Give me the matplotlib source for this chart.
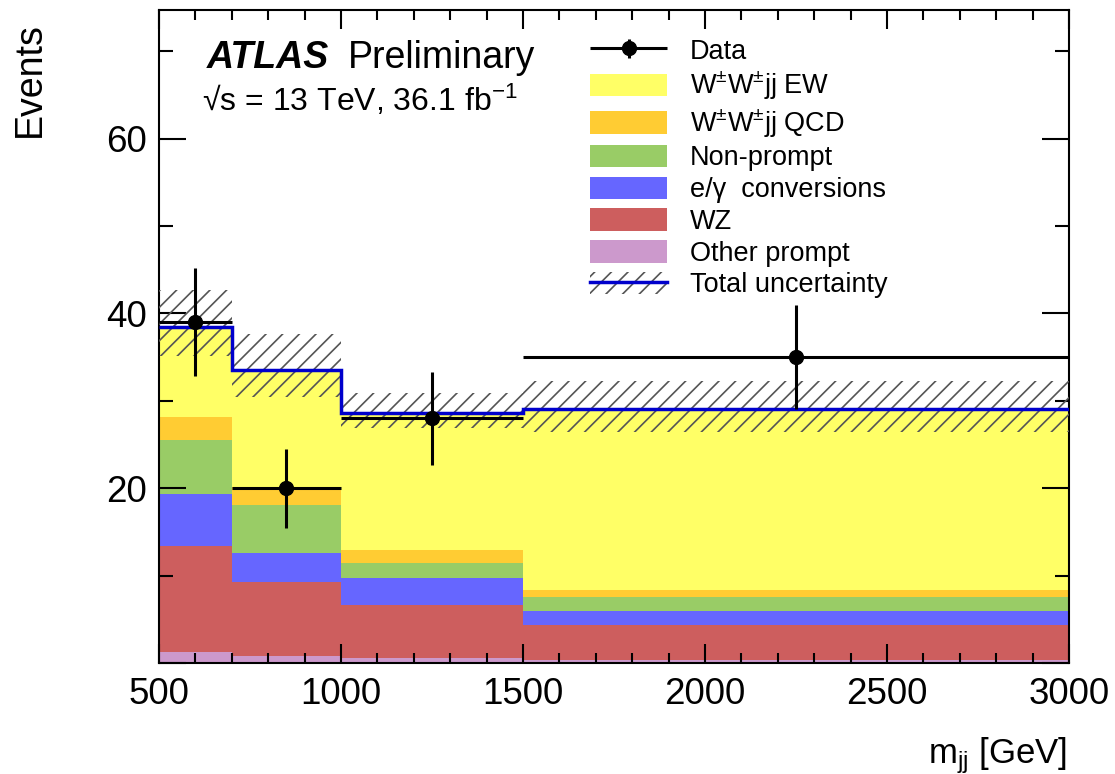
import matplotlib
matplotlib.use("Agg")
import matplotlib.pyplot as plt
import numpy as np
from matplotlib.container import ErrorbarContainer
from matplotlib.legend_handler import HandlerErrorbar
from matplotlib.lines import Line2D
from matplotlib.patches import Patch
from matplotlib.ticker import FuncFormatter, MultipleLocator

plt.rcParams["font.family"] = ["Liberation Sans", "DejaVu Sans"]
plt.rcParams["mathtext.fontset"] = "custom"
plt.rcParams["mathtext.rm"] = "Liberation Sans"
plt.rcParams["mathtext.it"] = "Liberation Sans:italic"
plt.rcParams["mathtext.bf"] = "Liberation Sans:bold"
plt.rcParams["hatch.linewidth"] = 1.2

# m_jj bins [GeV]
edges = [500, 700, 1000, 1500, 3000]

# stacked backgrounds / signal, bottom to top
other_prompt = [1.3, 0.8, 0.6, 0.35]
wz = [12.1, 8.5, 6.0, 4.05]
conversions = [5.9, 3.3, 3.1, 1.6]
non_prompt = [6.2, 5.5, 1.7, 1.5]
ww_qcd = [2.6, 2.0, 1.5, 0.8]
ww_ew = [10.3, 13.4, 15.7, 20.7]

# total uncertainty band (up / down)
unc_up = [4.3, 4.1, 2.3, 3.3]
unc_down = [3.3, 3.1, 1.7, 2.6]

data = [39, 20, 28, 35]
data_err = [6.2, 4.5, 5.3, 5.9]

stack = [
    (other_prompt, "#CC99CC", "Other prompt"),
    (wz, "#CD5E5E", "WZ"),
    (conversions, "#6666FF", "e/γ  conversions"),
    (non_prompt, "#99CC66", "Non-prompt"),
    (ww_qcd, "#FFCC33", "W$^{\\mathregular{±}}$W$^{\\mathregular{±}}$jj QCD"),
    (ww_ew, "#FFFF66", "W$^{\\mathregular{±}}$W$^{\\mathregular{±}}$jj EW"),
]

fig = plt.figure(figsize=(11.15, 7.74), dpi=100)
ax = fig.add_axes([159 / 1115, 111 / 774, 910 / 1115, 653 / 774])

edges_arr = np.array(edges, dtype=float)
bottom = np.zeros(len(edges) - 1)
patches = {}
for vals, color, label in stack:
    top = bottom + np.array(vals)
    ax.stairs(top, edges_arr, baseline=bottom, fill=True, color=color, lw=0)
    patches[label] = Patch(facecolor=color, edgecolor="none")
    bottom = top
total = bottom

ax.stairs(total + np.array(unc_up), edges_arr, baseline=total - np.array(unc_down),
          fill=True, facecolor="none", edgecolor="#555555", hatch="//", lw=0, zorder=3)
ax.stairs(total, edges_arr, baseline=None, color="#0000CC", lw=2.5, zorder=4)

centers = 0.5 * (edges_arr[1:] + edges_arr[:-1])
half = 0.5 * np.diff(edges_arr)
err = ax.errorbar(centers, data, xerr=half, yerr=data_err, fmt="o", color="black",
                  ms=10, lw=2.2, capsize=0, zorder=5)

ax.set_xlim(500, 3000)
ax.set_ylim(0, 74.7)

ax.xaxis.set_major_locator(MultipleLocator(500))
ax.xaxis.set_minor_locator(MultipleLocator(100))
ax.yaxis.set_major_locator(MultipleLocator(20))
ax.yaxis.set_minor_locator(MultipleLocator(10))
ax.yaxis.set_major_formatter(FuncFormatter(lambda v, p: "" if v == 0 else f"{v:.0f}"))
ax.tick_params(which="both", direction="in", top=True, right=True, width=1.5)
ax.tick_params(axis="x", which="major", length=13.7, pad=10, labelsize=26.5)
ax.tick_params(axis="x", which="minor", length=7)
ax.tick_params(axis="y", which="major", length=19.5, pad=8.6, labelsize=26.5)
ax.tick_params(axis="y", which="minor", length=10)
for s in ax.spines.values():
    s.set_linewidth(1.5)

# legend
unc_handle = (Patch(facecolor="none", edgecolor="#555555", hatch="//", lw=0),
              Line2D([], [], color="#0000CC", lw=2.5))
handles = [err] + [patches[l] for _, _, l in stack[::-1]] + [unc_handle]
labels = ["Data"] + [l for _, _, l in stack[::-1]] + ["Total uncertainty"]
ax.legend(handles, labels, loc="upper left", bbox_to_anchor=(0.4736, 0.957),
          frameon=False, fontsize=19.5, handlelength=2.85, handleheight=0.9,
          handletextpad=0.85, labelspacing=0.19, borderpad=0, borderaxespad=0,
          handler_map={ErrorbarContainer: HandlerErrorbar(xerr_size=1.42, yerr_size=0.34,
                                                          marker_pad=0, numpoints=1)})

fig.text(207 / 1115, 1 - 68 / 774, "ATLAS", fontsize=27, weight="bold",
         style="italic", va="baseline")
fig.text(348 / 1115, 1 - 68 / 774, "Preliminary", fontsize=27, va="baseline")
fig.text(202 / 1115, 1 - 111 / 774, "√s = 13 TeV, 36.1 fb$^{\\mathregular{-1}}$",
         fontsize=23, va="baseline")
fig.text(30 / 1115, 1 - 22 / 774, "Events", rotation=90, ha="center", va="top",
         fontsize=27)
fig.text(1067 / 1115, 1 - 763 / 774, "m$_{\\mathregular{jj}}$ [GeV]", ha="right",
         va="baseline", fontsize=25)

fig.savefig("out.png", dpi=100)
